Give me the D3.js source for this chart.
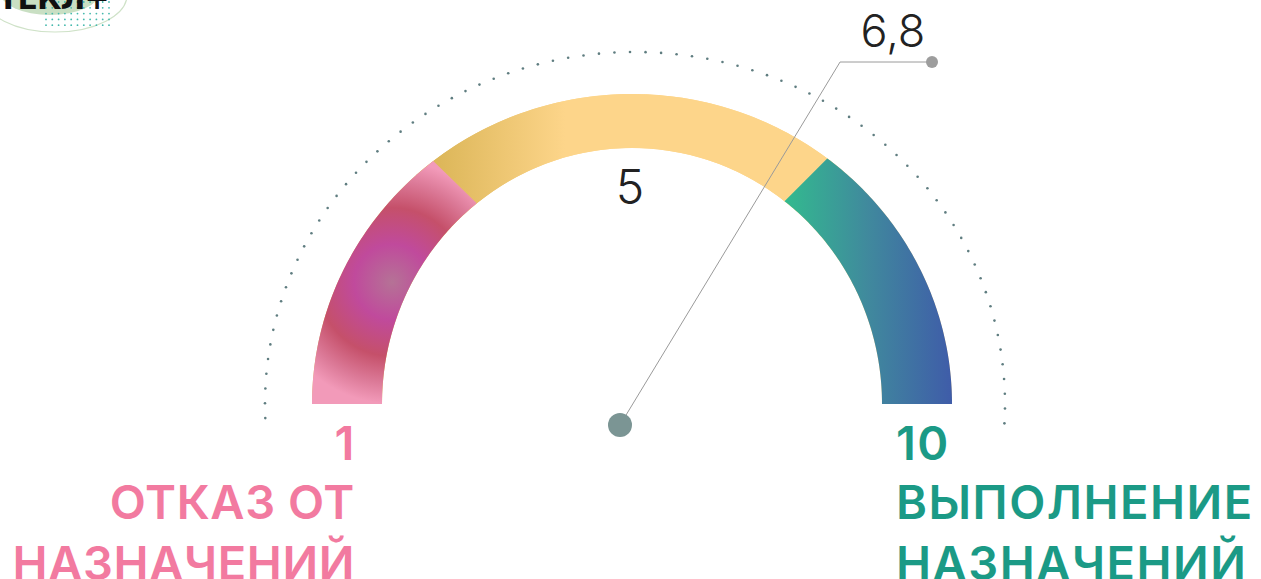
<!DOCTYPE html>
<html><head><meta charset="utf-8">
<script src="https://cdn.jsdelivr.net/npm/d3@7"></script>
<style>html,body{margin:0;padding:0;background:#fff;}svg{display:block;}</style>
</head><body>
<script>
// ---- data ----
const scaleMin = 1, scaleMax = 10;
const segmentNames = ["low", "mid", "high"];
const segmentStarts = [1, 3.58, 7.38];
const segmentEnds = [3.58, 7.38, 10];
const midLabel = "5";
const needleValue = 6.8;
const needleLabel = "6,8";
const leftLabels = ["1", "ОТКАЗ ОТ", "НАЗНАЧЕНИЙ"];
const rightLabels = ["10", "ВЫПОЛНЕНИЕ", "НАЗНАЧЕНИЙ"];

const W = 1261, H = 579;
const svg = d3.select("body").append("svg").attr("width", W).attr("height", H);
const defs = svg.append("defs");

// gradients
const gy = defs.append("linearGradient").attr("id", "gYellow").attr("gradientUnits", "userSpaceOnUse")
  .attr("x1", 440).attr("x2", 565).attr("y1", 0).attr("y2", 0);
gy.append("stop").attr("offset", "0").attr("stop-color", "#ddb75a");
gy.append("stop").attr("offset", "1").attr("stop-color", "#fdd58a");

const gt = defs.append("linearGradient").attr("id", "gTeal").attr("gradientUnits", "userSpaceOnUse")
  .attr("x1", 782).attr("x2", 954).attr("y1", 0).attr("y2", 0);
gt.append("stop").attr("offset", "0").attr("stop-color", "#32bc8e");
gt.append("stop").attr("offset", "0.5").attr("stop-color", "#40899d");
gt.append("stop").attr("offset", "1").attr("stop-color", "#3f5ba9");

const gp = defs.append("radialGradient").attr("id", "gPink").attr("gradientUnits", "userSpaceOnUse")
  .attr("cx", 392).attr("cy", 282).attr("r", 135);
[["0", "#b57296"], ["0.28", "#c04a9c"], ["0.55", "#c5506a"], ["0.75", "#dc7a98"], ["0.9", "#f29ab9"], ["1", "#f29ab9"]]
  .forEach(([o, c]) => gp.append("stop").attr("offset", o).attr("stop-color", c));

// geometry
const cx = 632, cy = 404;
const outer = {rx: 320, ry: 310}, inner = {rx: 250, ry: 256};
const angle = d3.scaleLinear().domain([scaleMin, scaleMax]).range([Math.PI, 0]);
const pt = (e, a) => [cx + e.rx * Math.cos(a), cy - e.ry * Math.sin(a)];
const line = d3.line();
function bandPath(v0, v1) {
  const n = 80;
  const vals = d3.range(n + 1).map(i => v0 + (v1 - v0) * i / n);
  const o = vals.map(v => pt(outer, angle(v)));
  const inn = vals.slice().reverse().map(v => pt(inner, angle(v)));
  return line(o.concat(inn)) + "Z";
}
const fills = {low: "url(#gPink)", mid: "url(#gYellow)", high: "url(#gTeal)"};

// mid band underneath full arc
svg.append("path").attr("d", bandPath(scaleMin, scaleMax)).attr("fill", "url(#gYellow)");
svg.append("path").attr("d", bandPath(segmentStarts[1] - 0.2, segmentEnds[1] + 0.2)).attr("fill", fills.mid);
[0, 2].forEach(i => {
  svg.append("path").attr("d", bandPath(segmentStarts[i], segmentEnds[i])).attr("fill", fills[segmentNames[i]]);
});

// dotted outer ring
const dotEl = {rx: 370, ry: 352};
const dotAngle = d3.scaleLinear().domain([0, 1]).range([Math.PI + 0.04, -0.055]);
const nDots = 77;
svg.append("g").selectAll("circle").data(d3.range(nDots + 1)).join("circle")
  .attr("cx", i => 635 + dotEl.rx * Math.cos(dotAngle(i / nDots)))
  .attr("cy", i => cy - dotEl.ry * Math.sin(dotAngle(i / nDots)))
  .attr("r", 1.3).attr("fill", "#5f7d80");

// mid label
svg.append("text").attr("x", cx - 2).attr("y", 204).attr("text-anchor", "middle")
  .attr("font-family", "Inter, 'Open Sans', sans-serif").attr("font-weight", 300)
  .attr("font-size", 48).attr("fill", "#222").text(midLabel);

// needle
const ncx = 620, ncy = 425;
const needleAngle = d3.scaleLinear().domain([0.2, scaleMax]).range([Math.PI, 0]);
const na = needleAngle(needleValue);
const elbowY = 62;
const nr = (ncy - elbowY) / Math.sin(na);
const elbow = [ncx + nr * Math.cos(na), elbowY];
const tip = [932, elbowY];
svg.append("path").attr("d", line([[ncx, ncy], elbow, tip]))
  .attr("fill", "none").attr("stroke", "#9a9a9a").attr("stroke-width", 1);
svg.append("circle").attr("cx", tip[0]).attr("cy", tip[1]).attr("r", 6).attr("fill", "#9d9d9d");
svg.append("circle").attr("cx", ncx).attr("cy", ncy).attr("r", 12).attr("fill", "#7b9594");
svg.append("text").attr("x", 893).attr("y", 47).attr("text-anchor", "middle")
  .attr("font-family", "Inter, 'Open Sans', sans-serif").attr("font-weight", 300)
  .attr("font-size", 45).attr("fill", "#222").text(needleLabel);

// end labels
const lblY = [460, 519, 580];
svg.append("g").selectAll("text").data(leftLabels).join("text")
  .attr("x", 355).attr("y", (d, i) => lblY[i]).attr("text-anchor", "end")
  .attr("font-family", "Inter, 'Open Sans', sans-serif").attr("font-weight", 600)
  .attr("font-size", 47).attr("letter-spacing", 0.6).attr("fill", "#f27aa0").text(d => d);
svg.append("g").selectAll("text").data(rightLabels).join("text")
  .attr("x", 896).attr("y", (d, i) => lblY[i]).attr("text-anchor", "start")
  .attr("font-family", "Inter, 'Open Sans', sans-serif").attr("font-weight", 600)
  .attr("font-size", 47).attr("letter-spacing", 1.5).attr("fill", "#1b9a86").text(d => d);

// logo fragment (top-left)
const logo = svg.append("g");
logo.append("ellipse").attr("cx", 55).attr("cy", -5).attr("rx", 72).attr("ry", 37)
  .attr("fill", "none").attr("stroke", "#cfe2c8").attr("stroke-width", 1.2);
logo.append("ellipse").attr("cx", 50).attr("cy", -8).attr("rx", 50).attr("ry", 23).attr("fill", "#c9dfc3");
logo.append("g").selectAll("circle")
  .data(d3.cross(d3.range(11), d3.range(5)))
  .join("circle")
  .attr("cx", d => 46 + d[0] * 6.3).attr("cy", d => 2 + d[1] * 5.8)
  .attr("r", 0.9).attr("fill", "#45b9ad");
logo.append("text").attr("x", -2).attr("y", 9).attr("font-family", "'DejaVu Sans', sans-serif")
  .attr("font-weight", 700).attr("font-size", 30).attr("fill", "#111").attr("letter-spacing", -1).text("ТЕКЛ+");
</script>
</body></html>
